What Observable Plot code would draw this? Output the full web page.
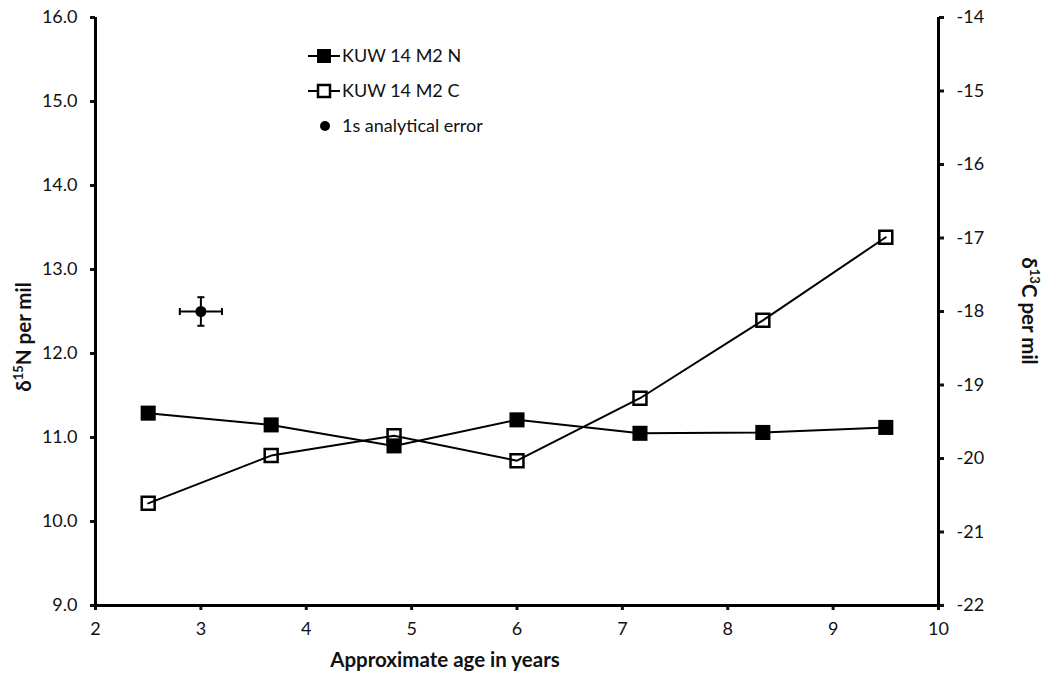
<!DOCTYPE html>
<html>
<head>
<meta charset="utf-8">
<script src="https://cdn.jsdelivr.net/npm/d3@7"></script>
<script src="https://cdn.jsdelivr.net/npm/@observablehq/plot@0.6"></script>
<style>
  html, body { margin: 0; padding: 0; background: white; }
  #chart { width: 1047px; height: 677px; }
</style>
</head>
<body>
<div id="chart"></div>
<script>
// ---- data ----
const ages = [2.5, 3.667, 4.833, 6.0, 7.167, 8.333, 9.5];
const d15N = [11.29, 11.15, 10.90, 11.21, 11.05, 11.06, 11.12];
const d13C = [-20.61, -19.96, -19.69, -20.03, -19.18, -18.12, -16.99];
const errAge = [3.0];
const errN = [12.5];
const errDX = [0.2];
const errDY = [0.17];
const xTicks = [2, 3, 4, 5, 6, 7, 8, 9, 10];
const nTicks = [9, 10, 11, 12, 13, 14, 15, 16];
const cTicks = [-22, -21, -20, -19, -18, -17, -16, -15, -14];
const seriesNames = ["KUW 14 M2 N", "KUW 14 M2 C", "1s analytical error"];

// map δ13C onto the δ15N scale (right axis -22..-14 ↔ left 9..16)
const nDom = [9, 16], cDom = [-22, -14];
const toN = c => nDom[0] + (c - cDom[0]) * (nDom[1] - nDom[0]) / (cDom[1] - cDom[0]);
const fromN = n => cDom[0] + (n - nDom[0]) * (cDom[1] - cDom[0]) / (nDom[1] - nDom[0]);

const nData = ages.map((a, i) => ({age: a, v: d15N[i]}));
const cData = ages.map((a, i) => ({age: a, v: toN(d13C[i])}));
const err = errAge.map((a, i) => ({x: a, y: errN[i], x1: a - errDX[i], x2: a + errDX[i], y1: errN[i] - errDY[i], y2: errN[i] + errDY[i]}));

const capV = {draw(ctx, size) { const h = Math.sqrt(size) / 2; ctx.moveTo(0, -h); ctx.lineTo(0, h); }};
const capH = {draw(ctx, size) { const h = Math.sqrt(size) / 2; ctx.moveTo(-h, 0); ctx.lineTo(h, 0); }};

const font = "Lato, 'Open Sans', sans-serif";

const svg = Plot.plot({
  width: 1047,
  height: 677,
  marginLeft: 95,
  marginRight: 109,
  marginTop: 17,
  marginBottom: 72,
  style: {fontFamily: font, fontSize: "18px", color: "#111", background: "white"},
  x: {domain: [xTicks[0], xTicks[xTicks.length - 1]]},
  y: {domain: nDom},
  marks: [
    Plot.axisY(nTicks, {anchor: "left", tickFormat: d3.format(".1f"), tickSize: 5, tickPadding: 13, strokeWidth: 3, label: null}),
    Plot.axisY(cTicks.map(toN), {anchor: "right", tickFormat: v => String(Math.round(fromN(v))), tickSize: 5, tickPadding: 13, strokeWidth: 3, label: null}),
    Plot.axisX(xTicks, {tickSize: 5, tickPadding: 12, strokeWidth: 3, label: null}),
    Plot.ruleX([xTicks[0]], {stroke: "black", strokeWidth: 3}),
    Plot.ruleX([xTicks[xTicks.length - 1]], {stroke: "black", strokeWidth: 3}),
    Plot.ruleY([nDom[0]], {stroke: "black", strokeWidth: 3}),
    // error bar
    Plot.ruleY(err, {y: "y", x1: "x1", x2: "x2", stroke: "black", strokeWidth: 2}),
    Plot.ruleX(err, {x: "x", y1: "y1", y2: "y2", stroke: "black", strokeWidth: 2}),
    Plot.dot(err, {x: "x1", y: "y", symbol: capV, r: 4, stroke: "black", strokeWidth: 2}),
    Plot.dot(err, {x: "x2", y: "y", symbol: capV, r: 4, stroke: "black", strokeWidth: 2}),
    Plot.dot(err, {x: "x", y: "y1", symbol: capH, r: 4, stroke: "black", strokeWidth: 2}),
    Plot.dot(err, {x: "x", y: "y2", symbol: capH, r: 4, stroke: "black", strokeWidth: 2}),
    Plot.dot(err, {x: "x", y: "y", r: 5.5, fill: "black"}),
    // N series
    Plot.line(nData, {x: "age", y: "v", stroke: "black", strokeWidth: 2}),
    Plot.dot(nData, {x: "age", y: "v", symbol: "square", r: 8.5, fill: "black"}),
    // C series
    Plot.line(cData, {x: "age", y: "v", stroke: "black", strokeWidth: 2}),
    Plot.dot(cData, {x: "age", y: "v", symbol: "square", r: 7.3, fill: "none", stroke: "black", strokeWidth: 2.5})
  ]
});

document.getElementById("chart").appendChild(svg);

// ---- titles and legend ----
const s = d3.select(svg);
const titleStyle = t => t.attr("font-family", font).attr("font-weight", "bold").attr("font-size", 20.5).attr("fill", "#111");

titleStyle(s.append("text"))
  .attr("x", 445).attr("y", 667).attr("text-anchor", "middle")
  .text("Approximate age in years");

const left = titleStyle(s.append("text"))
  .attr("transform", "translate(31,337) rotate(-90)").attr("text-anchor", "middle");
left.append("tspan").text("δ");
left.append("tspan").attr("font-size", 13).attr("dy", -8).text("15");
left.append("tspan").attr("dy", 8).text("N per mil");

const right = titleStyle(s.append("text"))
  .attr("transform", "translate(1022,311) rotate(90)").attr("text-anchor", "middle");
right.append("tspan").text("δ");
right.append("tspan").attr("font-size", 13).attr("dy", -8).text("13");
right.append("tspan").attr("dy", 8).text("C per mil");

const lg = s.append("g").attr("font-family", font).attr("font-size", 18).attr("fill", "#111").attr("text-anchor", "start");
const rows = [56, 91, 126];
rows.forEach((yy, i) => {
  if (i < 2) {
    lg.append("line").attr("x1", 308).attr("x2", 340).attr("y1", yy).attr("y2", yy).attr("stroke", "black").attr("stroke-width", 2);
    if (i === 0) lg.append("rect").attr("x", 317).attr("y", yy - 7).attr("width", 14).attr("height", 14).attr("fill", "black");
    else lg.append("rect").attr("x", 318).attr("y", yy - 6).attr("width", 12).attr("height", 12).attr("fill", "white").attr("stroke", "black").attr("stroke-width", 2.5);
  } else {
    lg.append("circle").attr("cx", 325).attr("cy", yy).attr("r", 5).attr("fill", "black");
  }
  lg.append("text").attr("x", 342).attr("y", yy).attr("dy", "0.35em").attr("text-anchor", "start").text(seriesNames[i]);
});
</script>
</body>
</html>
